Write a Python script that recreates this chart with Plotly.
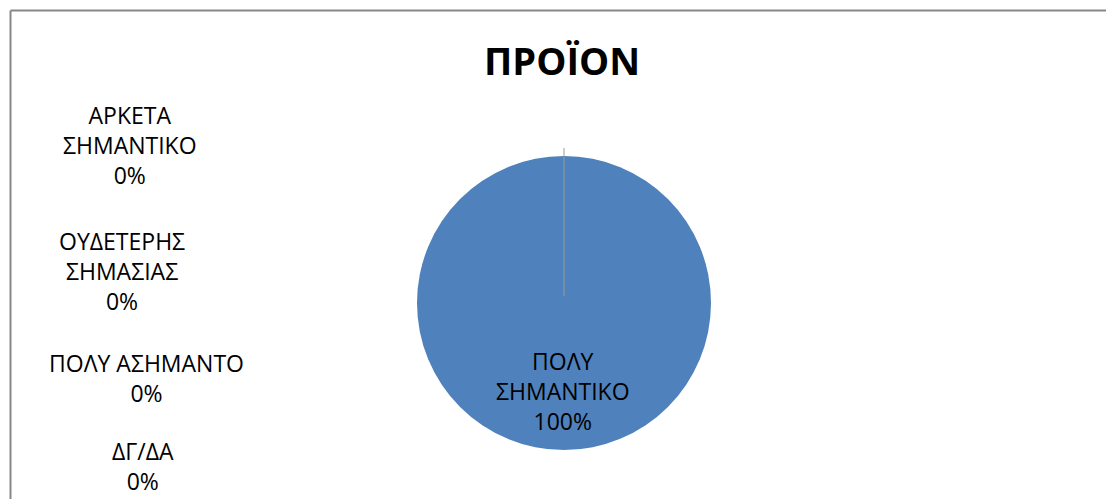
import plotly.graph_objects as go

# Response categories and their shares for the "ΠΡΟΪΟΝ" question
categories = ["ΠΟΛΥ ΣΗΜΑΝΤΙΚΟ", "ΑΡΚΕΤΑ ΣΗΜΑΝΤΙΚΟ", "ΟΥΔΕΤΕΡΗΣ ΣΗΜΑΣΙΑΣ", "ΠΟΛΥ ΑΣΗΜΑΝΤΟ", "ΔΓ/ΔΑ"]
shares = [100, 0, 0, 0, 0]
label_lines = [
    ["ΠΟΛΥ", "ΣΗΜΑΝΤΙΚΟ"],
    ["ΑΡΚΕΤΑ", "ΣΗΜΑΝΤΙΚΟ"],
    ["ΟΥΔΕΤΕΡΗΣ", "ΣΗΜΑΣΙΑΣ"],
    ["ΠΟΛΥ ΑΣΗΜΑΝΤΟ"],
    ["ΔΓ/ΔΑ"],
]
title_text = "ΠΡΟΪΟΝ"

W, H = 1106, 499
FONT = "Open Sans"

# label block centres in pixels (x, y from top)
label_pos = [(563, 391), (130, 145), (122, 271), (147, 378), (143, 466)]

fig = go.Figure()
fig.add_trace(go.Pie(
    labels=categories,
    values=shares,
    sort=False,
    direction="clockwise",
    rotation=0,
    textinfo="none",
    hoverinfo="label+percent",
    marker=dict(colors=["#4F81BD", "#C0504D", "#9BBB59", "#8064A2", "#4BACC6"],
                line=dict(width=0)),
    domain=dict(x=[417 / W, 711 / W], y=[1 - 450 / H, 1 - 156 / H]),
    showlegend=False,
))

total = sum(shares)
annotations = []
for lines, v, (px, py) in zip(label_lines, shares, label_pos):
    pct = f"{round(100 * v / total)}%"
    annotations.append(dict(
        text="<br>".join(lines + [pct]),
        x=px / W, y=1 - py / H, xref="paper", yref="paper",
        xanchor="center", yanchor="middle", showarrow=False, align="center",
        font=dict(family=FONT, size=23, color="#000000"),
    ))
annotations.append(dict(
    text=f"<b>{title_text}</b>",
    x=562 / W, y=1 - 60 / H, xref="paper", yref="paper",
    xanchor="center", yanchor="middle", showarrow=False,
    font=dict(family=FONT, size=38, color="#000000"),
))

shapes = [
    # chart area border (top and left edges)
    dict(type="line", xref="paper", yref="paper", x0=10.5 / W, x1=1.0,
         y0=1 - 10.5 / H, y1=1 - 10.5 / H, line=dict(color="#878787", width=2)),
    dict(type="line", xref="paper", yref="paper", x0=10.5 / W, x1=10.5 / W,
         y0=0, y1=1 - 10.5 / H, line=dict(color="#878787", width=2)),
    # leader line of the zero-share slices
    dict(type="line", xref="paper", yref="paper", x0=564 / W, x1=564 / W,
         y0=1 - 296 / H, y1=1 - 148 / H, line=dict(color="#9a9a9a", width=1)),
]

fig.update_layout(
    width=W, height=H,
    margin=dict(l=0, r=0, t=0, b=0),
    paper_bgcolor="#ffffff", plot_bgcolor="#ffffff",
    annotations=annotations,
    shapes=shapes,
)

fig.write_html("out.html", config={"displayModeBar": False})
